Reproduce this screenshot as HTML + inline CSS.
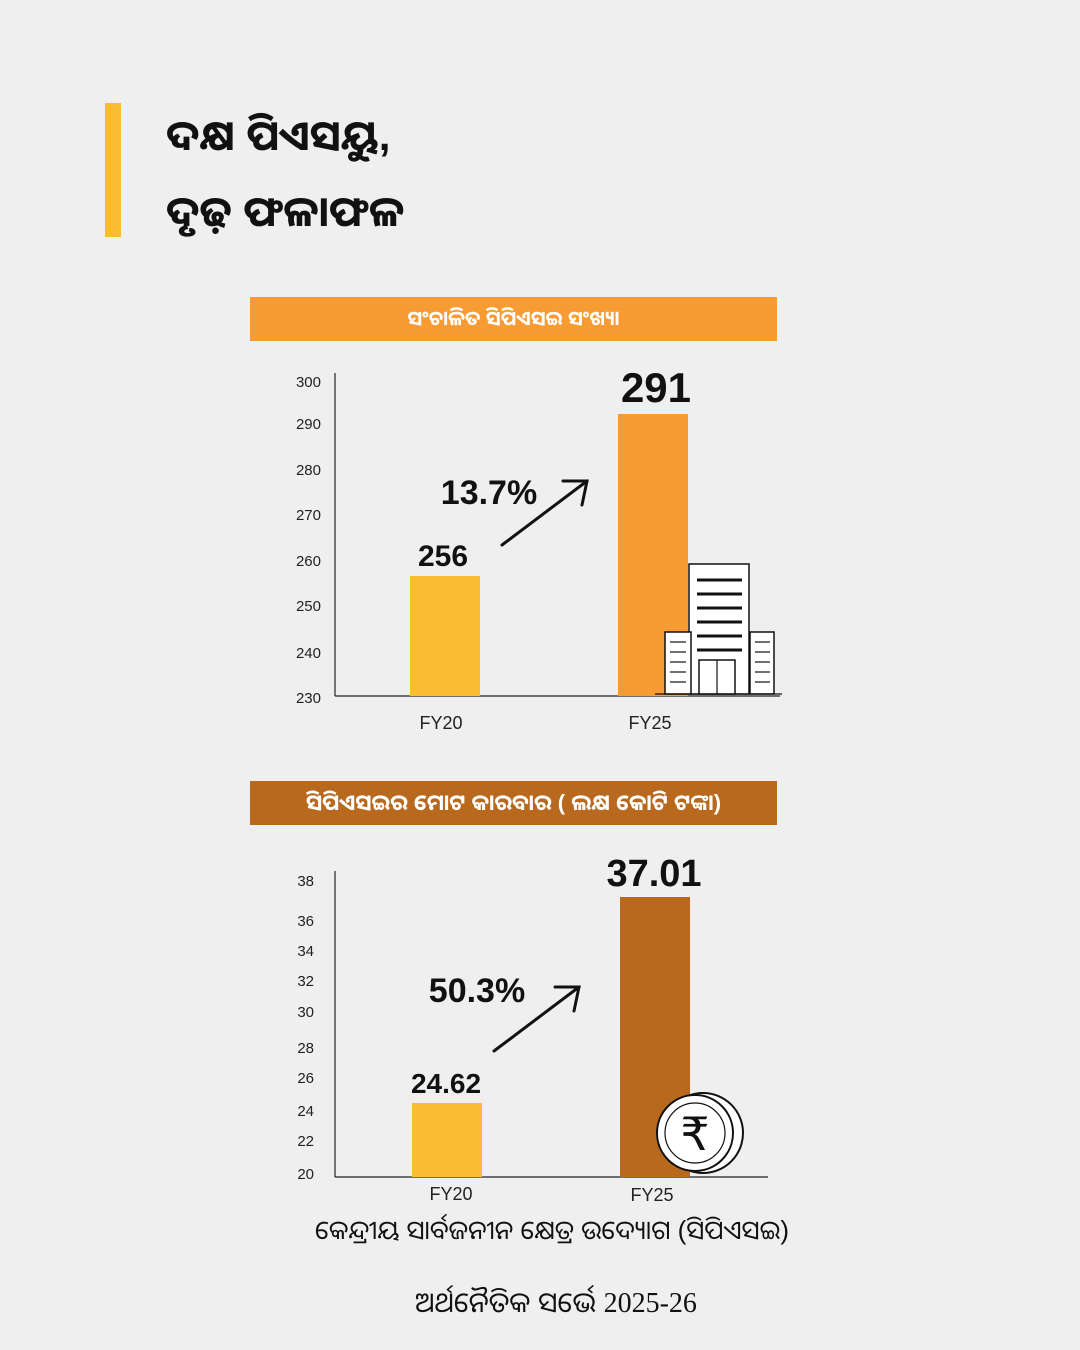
<!DOCTYPE html>
<html><head><meta charset="utf-8"><style>
body{margin:0;background:#efefef;}
.w{position:relative;width:1080px;height:1350px;background:#efefef;font-family:"Liberation Sans","Noto Sans Oriya","Lohit Odia",sans-serif;overflow:hidden;}
.t{position:absolute;white-space:nowrap;}
</style></head><body><div class="w">
<div style="position:absolute;left:105px;top:103px;width:16px;height:134px;background:#f9bc33"></div>
<div class="t" style="left:166px;top:98px;font-size:42px;font-weight:bold;color:#111;line-height:76px">ଦକ୍ଷ ପିଏସୟୁ,<br>ଦୃଢ଼ ଫଳାଫଳ</div>
<div style="position:absolute;left:250px;top:297px;width:527px;height:44px;background:#f89b33;color:#fff;font-size:20px;font-weight:bold;text-align:center;line-height:44px">ସଂଚାଳିତ ସିପିଏସଇ ସଂଖ୍ୟା</div>
<div style="position:absolute;left:250px;top:781px;width:527px;height:44px;background:#b8691e;color:#fff;font-size:22px;font-weight:bold;text-align:center;line-height:44px">ସିପିଏସଇର ମୋଟ କାରବାର ( ଲକ୍ଷ କୋଟି ଟଙ୍କା)</div>
<svg width="1080" height="1350" style="position:absolute;left:0;top:0" font-family="Liberation Sans, sans-serif">
<g stroke="#222" stroke-width="1.2">
<line x1="335" y1="373" x2="335" y2="696"/><line x1="335" y1="696" x2="780" y2="696"/>
<line x1="335" y1="871" x2="335" y2="1177"/><line x1="335" y1="1177" x2="768" y2="1177"/>
</g>
<g font-size="15" fill="#222" text-anchor="end">
<text x="321" y="387">300</text><text x="321" y="429">290</text><text x="321" y="475">280</text><text x="321" y="520">270</text><text x="321" y="566">260</text><text x="321" y="611">250</text><text x="321" y="658">240</text><text x="321" y="703">230</text>
<text x="314" y="886">38</text><text x="314" y="926">36</text><text x="314" y="956">34</text><text x="314" y="986">32</text><text x="314" y="1017">30</text><text x="314" y="1053">28</text><text x="314" y="1083">26</text><text x="314" y="1116">24</text><text x="314" y="1146">22</text><text x="314" y="1179">20</text>
</g>
<rect x="410" y="576" width="70" height="120" fill="#f9bc33"/>
<rect x="618" y="414" width="70" height="282" fill="#f89b33"/>
<rect x="412" y="1103" width="70" height="74" fill="#f9bc33"/>
<rect x="620" y="897" width="70" height="280" fill="#b8691e"/>
<g font-weight="bold" fill="#111" text-anchor="middle">
<text x="443" y="566" font-size="30">256</text>
<text x="656" y="402" font-size="42">291</text>
<text x="489" y="504" font-size="34">13.7%</text>
<text x="446" y="1093" font-size="28">24.62</text>
<text x="654" y="886" font-size="38">37.01</text>
<text x="477" y="1002" font-size="34">50.3%</text>
</g>
<g stroke="#111" stroke-width="3" fill="none" stroke-linecap="round">
<line x1="502" y1="545" x2="587" y2="481"/><polyline points="563,481 587,481 582,505"/>
<line x1="494" y1="1051" x2="579" y2="987"/><polyline points="555,987 579,987 574,1011"/>
</g>
<g font-size="18" fill="#222" text-anchor="middle">
<text x="441" y="729">FY20</text><text x="650" y="729">FY25</text>
<text x="451" y="1200">FY20</text><text x="652" y="1201">FY25</text>
</g>
<g stroke="#111" stroke-width="1.5" fill="#fff">
<rect x="689" y="564" width="60" height="130"/>
<rect x="665" y="632" width="26" height="62"/>
<rect x="750" y="632" width="24" height="62"/>
<rect x="699" y="660" width="36" height="34"/>
</g>
<g stroke="#111" stroke-width="3">
<line x1="697" y1="580" x2="742" y2="580"/><line x1="697" y1="594" x2="742" y2="594"/><line x1="697" y1="608" x2="742" y2="608"/><line x1="697" y1="622" x2="742" y2="622"/><line x1="697" y1="636" x2="742" y2="636"/><line x1="697" y1="650" x2="742" y2="650"/>
</g>
<g stroke="#111" stroke-width="1.2">
<line x1="670" y1="642" x2="686" y2="642"/><line x1="670" y1="652" x2="686" y2="652"/><line x1="670" y1="662" x2="686" y2="662"/><line x1="670" y1="672" x2="686" y2="672"/><line x1="670" y1="682" x2="686" y2="682"/>
<line x1="755" y1="642" x2="770" y2="642"/><line x1="755" y1="652" x2="770" y2="652"/><line x1="755" y1="662" x2="770" y2="662"/><line x1="755" y1="672" x2="770" y2="672"/><line x1="755" y1="682" x2="770" y2="682"/>
<line x1="717" y1="660" x2="717" y2="694"/><line x1="655" y1="694" x2="782" y2="694"/>
</g>
<circle cx="703" cy="1133" r="40" fill="#fff" stroke="#111" stroke-width="2"/>
<circle cx="695" cy="1133" r="38" fill="#fff" stroke="#111" stroke-width="2"/>
<circle cx="695" cy="1133" r="30" fill="none" stroke="#111" stroke-width="1.2"/>
<text x="695" y="1150" font-size="46" text-anchor="middle" fill="#111" font-family="DejaVu Sans, sans-serif">₹</text>
</svg>
<div class="t" style="left:0;width:1104px;top:1211px;text-align:center;font-size:26px;color:#111">କେନ୍ଦ୍ରୀୟ ସାର୍ବଜନୀନ କ୍ଷେତ୍ର ଉଦ୍ୟୋଗ (ସିପିଏସଇ)</div>
<div class="t" style="left:0;width:1112px;top:1283px;text-align:center;font-size:28px;color:#111">ଅର୍ଥନୈତିକ ସର୍ଭେ <span style="font-family:'Liberation Serif',serif">2025-26</span></div>
</div></body></html>
